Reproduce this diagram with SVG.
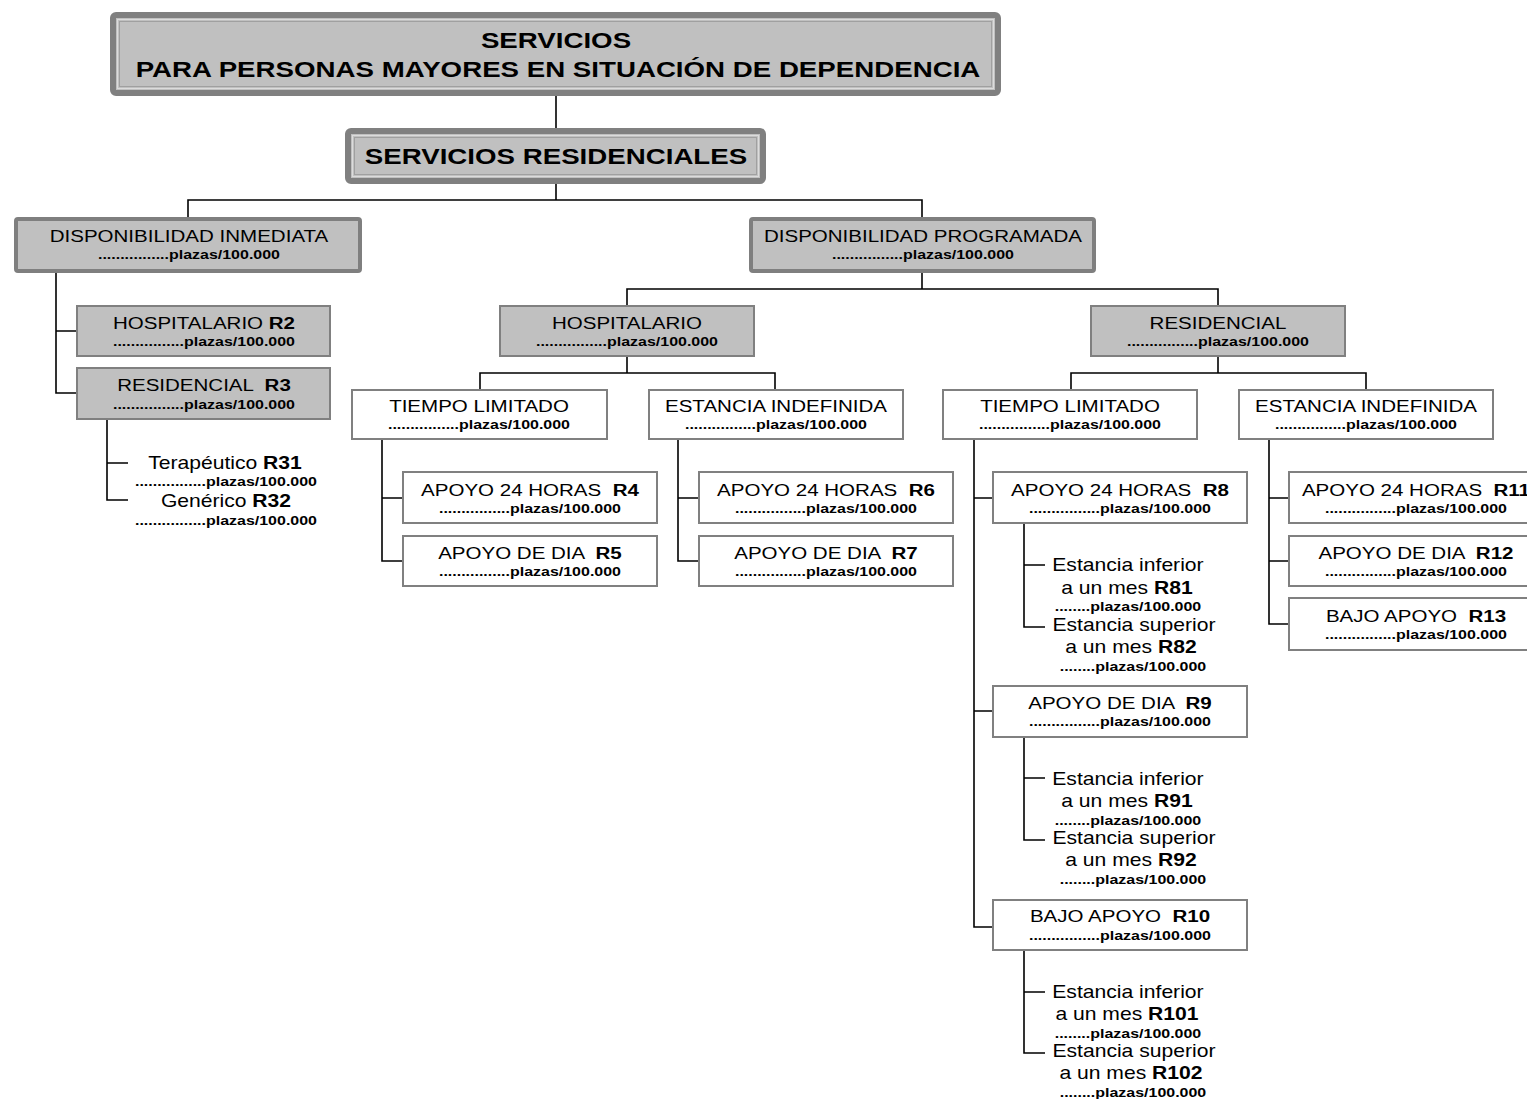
<svg xmlns="http://www.w3.org/2000/svg" width="1527" height="1099" viewBox="0 0 1527 1099">
<style>
text { font-family: "Liberation Sans", Arial, sans-serif; text-anchor: middle; fill: #000; transform-box: fill-box; transform-origin: center; transform: scaleX(1.3); }
.lbl { font-size: 17.4px; transform: scaleX(1.18); }
.est { font-size: 17.6px; transform: scaleX(1.2); }
.pl { font-size: 12.3px; font-weight: bold; }
.ttl { font-size: 21.8px; font-weight: bold; transform: scaleX(1.27); }
.b { font-weight: bold; }
.g2 { fill: #c0c0c0; stroke: #808080; stroke-width: 2; }
.w { fill: #ffffff; stroke: #808080; stroke-width: 2; }
.g3 { fill: #c0c0c0; stroke: #7f7f7f; stroke-width: 4; }
.band { fill: #c0c0c0; stroke: #808080; stroke-width: 6; }
.in1 { fill: none; stroke: #dcdcdc; stroke-width: 1; }
.in2 { fill: none; stroke: #a0a0a0; stroke-width: 1; }
.con path { fill: none; stroke: #000; stroke-width: 1.6; }
</style>

<g class="con" id="connectors">
<path d="M556,96 V128"/>
<path d="M556,184 V200"/>
<path d="M188,217 V200 H922 V217"/>
<path d="M56,273 V393 H77 M56,331 H77"/>
<path d="M107,419 V500 H128 M107,463 H128"/>
<path d="M922,273 V289"/>
<path d="M627,306 V289 H1218 V306"/>
<path d="M627,356 V373"/>
<path d="M480,390 V373 H775 V390"/>
<path d="M382,439 V561 H403 M382,498 H403"/>
<path d="M678,439 V561 H699 M678,498 H699"/>
<path d="M1218,356 V373"/>
<path d="M1071,390 V373 H1366 V390"/>
<path d="M974,439 V927 H993 M974,498 H993 M974,711 H993"/>
<path d="M1024,523 V627 H1045 M1024,565 H1045"/>
<path d="M1024,737 V840 H1045 M1024,778 H1045"/>
<path d="M1024,950 V1053 H1045 M1024,992 H1045"/>
<path d="M1269,439 V624 H1289 M1269,498 H1289 M1269,561 H1289"/>
</g>

<g id="n-servicios">
<rect class="band" x="113" y="15" width="885" height="78" rx="3"/>
<rect class="in1" x="117.5" y="19.5" width="876" height="69"/>
<rect class="in2" x="119.5" y="21.5" width="872" height="65"/>
<text class="ttl" x="556" y="48">SERVICIOS</text>
<text class="ttl" x="558" y="77">PARA PERSONAS MAYORES EN SITUACIÓN DE DEPENDENCIA</text>
</g>

<g id="n-residenciales">
<rect class="band" x="348" y="131" width="415" height="50" rx="3"/>
<rect class="in1" x="352.5" y="135.5" width="406" height="41"/>
<rect class="in2" x="354.5" y="137.5" width="402" height="37"/>
<text class="ttl" x="556" y="164">SERVICIOS RESIDENCIALES</text>
</g>

<g id="n-disp-inmediata">
<rect class="g3" x="16" y="219" width="344" height="52" rx="2"/>
<text class="lbl" x="189" y="242">DISPONIBILIDAD INMEDIATA</text>
<text class="pl" x="189" y="259">................plazas/100.000</text>
</g>

<g id="n-disp-programada">
<rect class="g3" x="751" y="219" width="343" height="52" rx="2"/>
<text class="lbl" x="923" y="242">DISPONIBILIDAD PROGRAMADA</text>
<text class="pl" x="923" y="259">................plazas/100.000</text>
</g>

<g id="n-r2">
<rect class="g2" x="77" y="306" width="253" height="50"/>
<text class="lbl" x="204" y="329">HOSPITALARIO <tspan class="b">R2</tspan></text>
<text class="pl" x="204" y="346">................plazas/100.000</text>
</g>

<g id="n-r3">
<rect class="g2" x="77" y="368" width="253" height="51"/>
<text class="lbl" x="204" y="391" xml:space="preserve">RESIDENCIAL  <tspan class="b">R3</tspan></text>
<text class="pl" x="204" y="409">................plazas/100.000</text>
</g>

<g id="n-r31">
<text class="est" x="225" y="469">Terapéutico <tspan class="b">R31</tspan></text>
<text class="pl" x="226" y="486">................plazas/100.000</text>
</g>

<g id="n-r32">
<text class="est" x="226" y="507">Genérico <tspan class="b">R32</tspan></text>
<text class="pl" x="226" y="525">................plazas/100.000</text>
</g>

<g id="n-hospitalario">
<rect class="g2" x="500" y="306" width="254" height="50"/>
<text class="lbl" x="627" y="329">HOSPITALARIO</text>
<text class="pl" x="627" y="346">................plazas/100.000</text>
</g>

<g id="n-residencial">
<rect class="g2" x="1091" y="306" width="254" height="50"/>
<text class="lbl" x="1218" y="329">RESIDENCIAL</text>
<text class="pl" x="1218" y="346">................plazas/100.000</text>
</g>

<g id="n-tl-hosp">
<rect class="w" x="352" y="390" width="255" height="49"/>
<text class="lbl" x="479" y="412">TIEMPO LIMITADO</text>
<text class="pl" x="479" y="429">................plazas/100.000</text>
</g>

<g id="n-ei-hosp">
<rect class="w" x="649" y="390" width="254" height="49"/>
<text class="lbl" x="776" y="412">ESTANCIA INDEFINIDA</text>
<text class="pl" x="776" y="429">................plazas/100.000</text>
</g>

<g id="n-r4">
<rect class="w" x="403" y="472" width="254" height="51"/>
<text class="lbl" x="530" y="496" xml:space="preserve">APOYO 24 HORAS  <tspan class="b">R4</tspan></text>
<text class="pl" x="530" y="513">................plazas/100.000</text>
</g>

<g id="n-r5">
<rect class="w" x="403" y="536" width="254" height="50"/>
<text class="lbl" x="530" y="559" xml:space="preserve">APOYO DE DIA  <tspan class="b">R5</tspan></text>
<text class="pl" x="530" y="576">................plazas/100.000</text>
</g>

<g id="n-r6">
<rect class="w" x="699" y="472" width="254" height="51"/>
<text class="lbl" x="826" y="496" xml:space="preserve">APOYO 24 HORAS  <tspan class="b">R6</tspan></text>
<text class="pl" x="826" y="513">................plazas/100.000</text>
</g>

<g id="n-r7">
<rect class="w" x="699" y="536" width="254" height="50"/>
<text class="lbl" x="826" y="559" xml:space="preserve">APOYO DE DIA  <tspan class="b">R7</tspan></text>
<text class="pl" x="826" y="576">................plazas/100.000</text>
</g>

<g id="n-tl-res">
<rect class="w" x="943" y="390" width="254" height="49"/>
<text class="lbl" x="1070" y="412">TIEMPO LIMITADO</text>
<text class="pl" x="1070" y="429">................plazas/100.000</text>
</g>

<g id="n-ei-res">
<rect class="w" x="1239" y="390" width="254" height="49"/>
<text class="lbl" x="1366" y="412">ESTANCIA INDEFINIDA</text>
<text class="pl" x="1366" y="429">................plazas/100.000</text>
</g>

<g id="n-r8">
<rect class="w" x="993" y="472" width="254" height="51"/>
<text class="lbl" x="1120" y="496" xml:space="preserve">APOYO 24 HORAS  <tspan class="b">R8</tspan></text>
<text class="pl" x="1120" y="513">................plazas/100.000</text>
</g>

<g id="n-r81">
<text class="est" x="1128" y="571">Estancia inferior</text>
<text class="est" x="1127" y="594">a un mes <tspan class="b">R81</tspan></text>
<text class="pl" x="1128" y="611">........plazas/100.000</text>
</g>

<g id="n-r82">
<text class="est" x="1134" y="631">Estancia superior</text>
<text class="est" x="1131" y="653">a un mes <tspan class="b">R82</tspan></text>
<text class="pl" x="1133" y="671">........plazas/100.000</text>
</g>

<g id="n-r9">
<rect class="w" x="993" y="686" width="254" height="51"/>
<text class="lbl" x="1120" y="709" xml:space="preserve">APOYO DE DIA  <tspan class="b">R9</tspan></text>
<text class="pl" x="1120" y="726">................plazas/100.000</text>
</g>

<g id="n-r91">
<text class="est" x="1128" y="785">Estancia inferior</text>
<text class="est" x="1127" y="807">a un mes <tspan class="b">R91</tspan></text>
<text class="pl" x="1128" y="825">........plazas/100.000</text>
</g>

<g id="n-r92">
<text class="est" x="1134" y="844">Estancia superior</text>
<text class="est" x="1131" y="866">a un mes <tspan class="b">R92</tspan></text>
<text class="pl" x="1133" y="884">........plazas/100.000</text>
</g>

<g id="n-r10">
<rect class="w" x="993" y="900" width="254" height="50"/>
<text class="lbl" x="1120" y="922" xml:space="preserve">BAJO APOYO  <tspan class="b">R10</tspan></text>
<text class="pl" x="1120" y="940">................plazas/100.000</text>
</g>

<g id="n-r101">
<text class="est" x="1128" y="998">Estancia inferior</text>
<text class="est" x="1127" y="1020">a un mes <tspan class="b">R101</tspan></text>
<text class="pl" x="1128" y="1038">........plazas/100.000</text>
</g>

<g id="n-r102">
<text class="est" x="1134" y="1057">Estancia superior</text>
<text class="est" x="1131" y="1079">a un mes <tspan class="b">R102</tspan></text>
<text class="pl" x="1133" y="1097">........plazas/100.000</text>
</g>

<g id="n-r11">
<rect class="w" x="1289" y="472" width="254" height="51"/>
<text class="lbl" x="1416" y="496" xml:space="preserve">APOYO 24 HORAS  <tspan class="b">R11</tspan></text>
<text class="pl" x="1416" y="513">................plazas/100.000</text>
</g>

<g id="n-r12">
<rect class="w" x="1289" y="536" width="254" height="50"/>
<text class="lbl" x="1416" y="559" xml:space="preserve">APOYO DE DIA  <tspan class="b">R12</tspan></text>
<text class="pl" x="1416" y="576">................plazas/100.000</text>
</g>

<g id="n-r13">
<rect class="w" x="1289" y="598" width="254" height="52"/>
<text class="lbl" x="1416" y="622" xml:space="preserve">BAJO APOYO  <tspan class="b">R13</tspan></text>
<text class="pl" x="1416" y="639">................plazas/100.000</text>
</g>
</svg>
